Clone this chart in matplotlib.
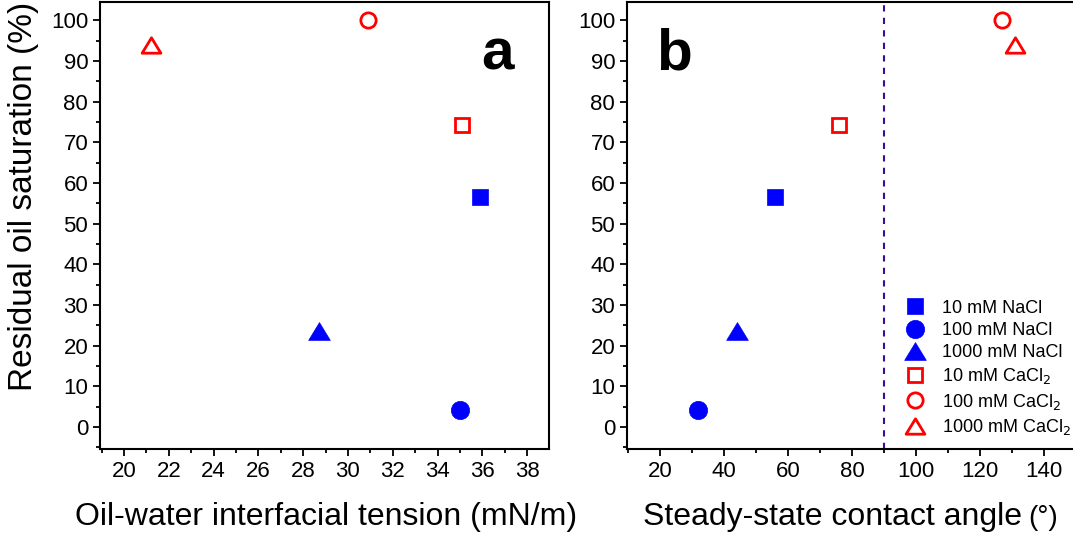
import matplotlib as mpl
mpl.use('Agg')
from matplotlib import pyplot as plt
from matplotlib.path import Path
from matplotlib.ticker import MultipleLocator

# residual oil saturation (%) for each brine
labels = ['10 mM NaCl', '100 mM NaCl', '1000 mM NaCl',
          r'10 mM CaCl$_2$', r'100 mM CaCl$_2$', r'1000 mM CaCl$_2$']
ift = [35.9, 35.0, 28.7, 35.1, 30.9, 21.2]          # mN/m
angle = [56, 32, 44, 76, 127, 131]                  # degrees
sor = [56.5, 4.2, 23.5, 74.2, 100.0, 94.0]          # %

tri = Path([(0, 0.82), (-1, -0.82), (1, -0.82), (0, 0.82)], closed=True)  # wide triangle
markers = ['s', 'o', tri, 's', 'o', tri]
filled = [True, True, True, False, False, False]
sizes = [11.5, 13.2, 15.6, 9.5, 11, 13.5]

plt.rcParams.update({'font.family': ['Liberation Sans', 'DejaVu Sans'],
                     'font.size': 16})

fig = plt.figure(figsize=(10.73, 5.39), dpi=100)
ax1 = fig.add_axes([0.0932, 0.167, 0.4185, 0.8293])
ax2 = fig.add_axes([0.5843, 0.167, 0.4185, 0.8293])


def draw(ax, xs):
    for x, y, m, f, s, lab in zip(xs, sor, markers, filled, sizes, labels):
        if f:
            ax.plot(x, y, ls='none', marker=m, ms=s, color='blue', mec='blue', mew=0.5, label=lab)
        else:
            ax.plot(x, y, ls='none', marker=m, ms=s, mfc='none', mec='red', mew=2, label=lab)
    ax.set_ylim(-5.4, 104.5)
    ax.yaxis.set_major_locator(MultipleLocator(10))
    ax.yaxis.set_minor_locator(MultipleLocator(5))
    ax.tick_params(which='major', direction='out', length=5, width=1.3, top=False, right=False)
    ax.tick_params(which='minor', direction='out', length=3, width=1.3, top=False, right=False)
    for sp in ax.spines.values():
        sp.set_linewidth(1.5)


draw(ax1, ift)
ax1.set_xlim(18.93, 38.98)
ax1.xaxis.set_major_locator(MultipleLocator(2))
ax1.xaxis.set_minor_locator(MultipleLocator(1))
ax1.text(0.503, -0.170, 'Oil-water interfacial tension (mN/m)', transform=ax1.transAxes,
         fontsize=23, ha='center', va='baseline')
ax1.set_ylabel('Residual oil saturation (%)', fontsize=24)
ax1.yaxis.set_label_coords(-0.135, 0.566)
ax1.text(0.886, 0.848, 'a', transform=ax1.transAxes, fontsize=42, fontweight='bold',
         ha='center', va='baseline')

draw(ax2, angle)
ax2.set_xlim(9.7, 150)
ax2.xaxis.set_major_locator(MultipleLocator(20))
ax2.xaxis.set_minor_locator(MultipleLocator(10))
ax2.axvline(90, color='#3a0f8f', ls=(0, (3, 3)), lw=1.5)
ax2.text(0.457, -0.170, 'Steady-state contact angle', transform=ax2.transAxes,
         fontsize=23, ha='center', va='baseline')
ax2.text(0.893, -0.170, '(°)', transform=ax2.transAxes,
         fontsize=20, ha='left', va='baseline')
ax2.text(0.105, 0.848, 'b', transform=ax2.transAxes, fontsize=42, fontweight='bold',
         ha='center', va='baseline')
ax2.legend(loc='lower left', bbox_to_anchor=(0.599, 0.011), borderaxespad=0, frameon=False,
           fontsize=13, handletextpad=0.85, labelspacing=0.29, handlelength=1.3,
           markerscale=1.0)

fig.savefig('out.png', dpi=100)
